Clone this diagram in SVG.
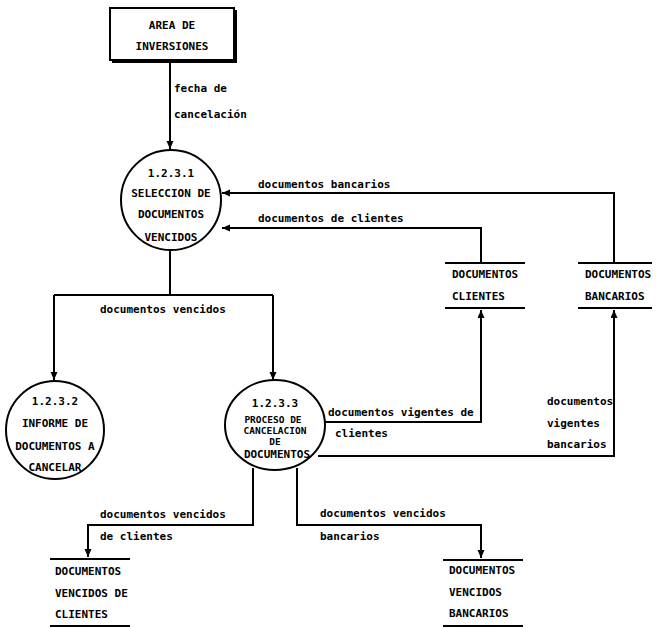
<svg xmlns="http://www.w3.org/2000/svg" width="656" height="628" viewBox="0 0 656 628">
<style>
text{font-family:"DejaVu Sans Mono","Liberation Mono",monospace;font-weight:bold;font-size:11px;fill:#000}
.c{text-anchor:middle}
.s{font-size:9.5px}
.sh{fill:none;stroke:#000;stroke-width:2}
.ln{fill:none;stroke:#000;stroke-width:2}
</style>
<defs>
<marker id="ah" markerUnits="userSpaceOnUse" markerWidth="9" markerHeight="8" refX="8" refY="3.5" orient="auto">
<path d="M0,0 L8,3.5 L0,7 z" fill="#000"/>
</marker>
</defs>
<rect width="656" height="628" fill="#fff"/>
<g id="connectors">
<path class="ln" d="M170 62 V149" marker-end="url(#ah)"/>
<path class="ln" d="M614 263 V193 H222" marker-end="url(#ah)"/>
<path class="ln" d="M481 263 V228 H222" marker-end="url(#ah)"/>
<path class="ln" d="M170 250 V295"/>
<path class="ln" d="M54 295 H273"/>
<path class="ln" d="M54 295 V380" marker-end="url(#ah)"/>
<path class="ln" d="M273 295 V380" marker-end="url(#ah)"/>
<path class="ln" d="M325 422 H481 V310" marker-end="url(#ah)"/>
<path class="ln" d="M318 456 H614 V310" marker-end="url(#ah)"/>
<path class="ln" d="M253 468 V525 H88 V557" marker-end="url(#ah)"/>
<path class="ln" d="M297 468 V525 H481 V558" marker-end="url(#ah)"/>
<text x="174" y="92">fecha de</text>
<text x="174" y="118">cancelación</text>
<text x="258" y="188">documentos bancarios</text>
<text x="258" y="222">documentos de clientes</text>
<text x="100" y="313">documentos vencidos</text>
<text x="328" y="416">documentos vigentes de</text>
<text x="335" y="437">clientes</text>
<text x="547" y="405">documentos</text>
<text x="547" y="427">vigentes</text>
<text x="547" y="448">bancarios</text>
<text x="100" y="518">documentos vencidos</text>
<text x="100" y="540">de clientes</text>
<text x="320" y="517">documentos vencidos</text>
<text x="320" y="540">bancarios</text>
</g>
<g id="area-inversiones">
<rect class="sh" x="110" y="8" width="124" height="52"/>
<path d="M236 10 V62 H112" fill="none" stroke="#000" stroke-width="2"/>
<text class="c" x="172" y="29">AREA DE</text>
<text class="c" x="172" y="50">INVERSIONES</text>
</g>
<g id="p1231">
<circle class="sh" cx="171" cy="200" r="50"/>
<text class="c" x="171" y="177">1.2.3.1</text>
<text class="c" x="171" y="197">SELECCION DE</text>
<text class="c" x="171" y="218">DOCUMENTOS</text>
<text class="c" x="171" y="241">VENCIDOS</text>
</g>
<g id="p1232">
<circle class="sh" cx="55" cy="430" r="49"/>
<text class="c" x="55" y="405">1.2.3.2</text>
<text class="c" x="55" y="427">INFORME DE</text>
<text class="c" x="55" y="450">DOCUMENTOS A</text>
<text class="c" x="55" y="471">CANCELAR</text>
</g>
<g id="p1233">
<ellipse class="sh" cx="275" cy="425" rx="50" ry="45"/>
<text class="c" x="275" y="407">1.2.3.3</text>
<text class="c s" x="273" y="423">PROCESO DE</text>
<text class="c s" x="275" y="434">CANCELACION</text>
<text class="c s" x="275" y="445">DE</text>
<text class="c" x="277" y="458">DOCUMENTOS</text>
</g>
<g id="s-clientes">
<path class="ln" d="M445 263 H525 M445 308 H525"/>
<text x="452" y="278">DOCUMENTOS</text>
<text x="452" y="300">CLIENTES</text>
</g>
<g id="s-bancarios">
<path class="ln" d="M578 263 H652 M578 308 H652"/>
<text x="585" y="278">DOCUMENTOS</text>
<text x="585" y="300">BANCARIOS</text>
</g>
<g id="s-vencidos-clientes">
<path class="ln" d="M50 559 H130 M50 626 H130"/>
<text x="55" y="575">DOCUMENTOS</text>
<text x="55" y="597">VENCIDOS DE</text>
<text x="55" y="618">CLIENTES</text>
</g>
<g id="s-vencidos-bancarios">
<path class="ln" d="M443 560 H523 M443 626 H523"/>
<text x="449" y="574">DOCUMENTOS</text>
<text x="449" y="596">VENCIDOS</text>
<text x="449" y="617">BANCARIOS</text>
</g>
</svg>
